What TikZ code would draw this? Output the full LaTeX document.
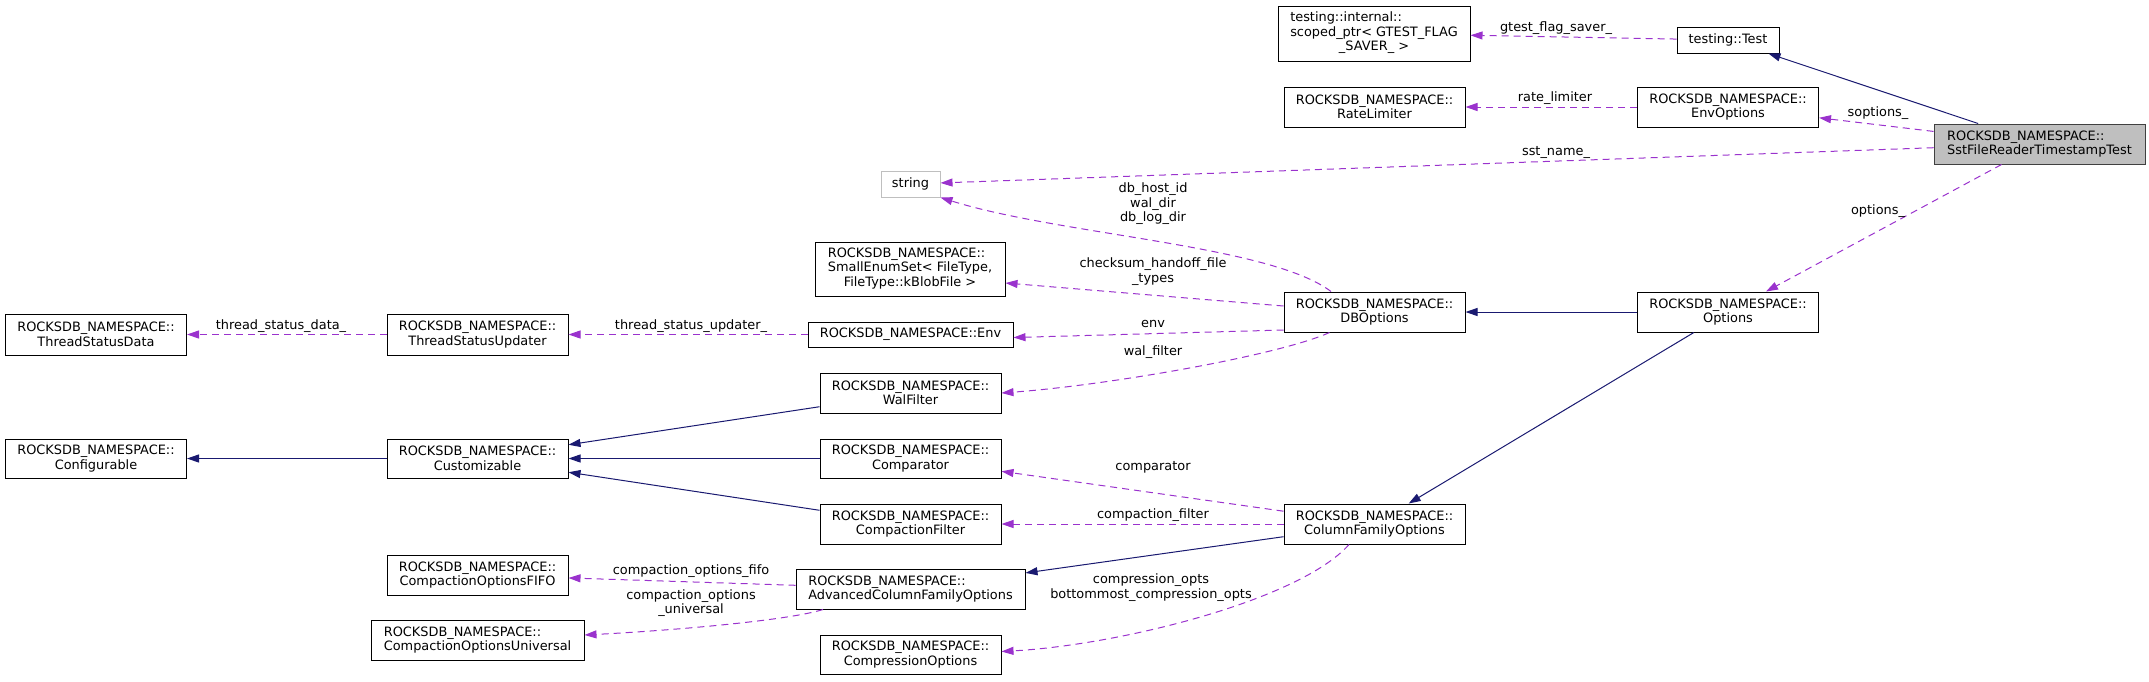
\documentclass[tikz,border=0pt]{standalone}
\usepackage{fontspec}
\setmainfont{DejaVu Sans}
\usetikzlibrary{arrows.meta}
\usepackage{xcolor}
\definecolor{usecol}{HTML}{9A32CD}
\definecolor{inhcol}{HTML}{191970}
\definecolor{mainfill}{HTML}{BFBFBF}
\definecolor{mainline}{HTML}{404040}
\definecolor{extline}{HTML}{BFBFBF}
\newcommand{\dxfont}{\fontsize{12.9}{14.5}\selectfont}
\tikzset{
  cls/.style     = {draw, line width=1pt, fill=white, inner sep=0pt, align=center,
                    font=\dxfont, minimum width=181pt, minimum height=40pt},
  mainbox/.style = {fill=mainfill, draw=mainline},
  extbox/.style  = {draw=extline},
  lbl/.style     = {font=\dxfont, inner sep=0pt, align=center},
  inh/.style     = {draw=inhcol, line width=1pt, -{Triangle[length=12pt,width=8pt]}},
  use/.style     = {draw=usecol, line width=1pt, dash pattern=on 7pt off 5pt,
                    -{Triangle[length=12pt,width=8pt]}},
}

\begin{document}
\begin{tikzpicture}[x=1pt, y=-1pt]
\useasboundingbox (0,0) rectangle (2149,681);
\node[cls, minimum width=192pt, minimum height=55pt] (scoped) at (1374,33.5)
   {\begin{tabular}{@{}l@{}}testing::internal::\\scoped\_ptr< GTEST\_FLAG\\\multicolumn{1}{@{}c@{}}{\_SAVER\_ >}\end{tabular}};
\node[cls, minimum width=102pt, minimum height=26pt] (gtest) at (1728,40) {testing::Test};
\node[cls] (ratelim) at (1374.5,107) {ROCKSDB\_NAMESPACE::\\RateLimiter};
\node[cls] (envopt) at (1728,107) {ROCKSDB\_NAMESPACE::\\EnvOptions};
\node[cls, mainbox, minimum width=211pt, align=left] (sst) at (2039.5,144)
   {ROCKSDB\_NAMESPACE::\\SstFileReaderTimestampTest};
\node[cls, extbox, minimum width=59pt, minimum height=26pt] (str) at (910.5,184) {string};
\node[cls, minimum width=190pt, minimum height=54pt] (smallenum) at (910,269)
   {\begin{tabular}{@{}l@{}}ROCKSDB\_NAMESPACE::\\SmallEnumSet< FileType,\\\multicolumn{1}{@{}c@{}}{FileType::kBlobFile >}\end{tabular}};
\node[cls] (dbopt) at (1374.5,312) {ROCKSDB\_NAMESPACE::\\DBOptions};
\node[cls] (opts) at (1728,312) {ROCKSDB\_NAMESPACE::\\Options};
\node[cls, minimum height=41pt] (tsdata) at (96,334.5) {ROCKSDB\_NAMESPACE::\\ThreadStatusData};
\node[cls, minimum height=41pt] (tsupd) at (477.5,334.5) {ROCKSDB\_NAMESPACE::\\ThreadStatusUpdater};
\node[cls, minimum width=205pt, minimum height=25pt] (env) at (910.5,334.5) {ROCKSDB\_NAMESPACE::Env};
\node[cls] (walf) at (910.5,393) {ROCKSDB\_NAMESPACE::\\WalFilter};
\node[cls, minimum height=39pt] (config) at (96,458.5) {ROCKSDB\_NAMESPACE::\\Configurable};
\node[cls, minimum height=39pt] (custom) at (477.5,458.5) {ROCKSDB\_NAMESPACE::\\Customizable};
\node[cls, minimum height=39pt] (cmp) at (910.5,458.5) {ROCKSDB\_NAMESPACE::\\Comparator};
\node[cls] (cfilter) at (910.5,524) {ROCKSDB\_NAMESPACE::\\CompactionFilter};
\node[cls] (cfo) at (1374.5,524) {ROCKSDB\_NAMESPACE::\\ColumnFamilyOptions};
\node[cls] (fifo) at (477.5,575) {ROCKSDB\_NAMESPACE::\\CompactionOptionsFIFO};
\node[cls, minimum width=229pt, align=left] (advcfo) at (910.5,589)
   {ROCKSDB\_NAMESPACE::\\AdvancedColumnFamilyOptions};
\node[cls, minimum width=213pt, align=left] (univ) at (477.5,640)
   {ROCKSDB\_NAMESPACE::\\CompactionOptionsUniversal};
\node[cls, minimum height=39pt] (compr) at (910.5,654.5) {ROCKSDB\_NAMESPACE::\\CompressionOptions};

\draw[inh] (sst) -- (gtest);
\draw[use] (gtest) -- (scoped);
\draw[use] (envopt) -- (ratelim);
\draw[use] (sst) -- (envopt);
\draw[use] (sst) -- (str);
\draw[use] (sst) -- (opts);
\draw[inh] (opts) -- (dbopt);
\draw[inh] (opts) -- (cfo);
\draw[use] ([xshift=-43.5pt]dbopt.north) .. controls (1270,245) and (1060,235) .. (str.south east);
\draw[use] ([yshift=6pt]dbopt.west) -- ([yshift=-14pt]smallenum.east);
\draw[use] ([yshift=-18pt]dbopt.west) -- ([yshift=-3pt]env.east);
\draw[use] ([xshift=-45pt]dbopt.south) .. controls (1280,355) and (1110,385) .. (walf.east);
\draw[use] (env) -- (tsupd);
\draw[use] (tsupd) -- (tsdata);
\draw[inh] (custom) -- (config);
\draw[inh] (walf) -- (custom);
\draw[inh] (cmp) -- (custom);
\draw[inh] (cfilter) -- (custom);
\draw[use] (cfo) -- (cmp);
\draw[use] (cfo) -- (cfilter);
\draw[inh] (cfo) -- (advcfo);
\draw[use] ([xshift=-25.5pt]cfo.south) .. controls (1300,600) and (1120,645) .. ([yshift=3pt]compr.east);
\draw[use] (advcfo) -- (fifo);
\draw[use] ([xshift=-87.5pt]advcfo.south) .. controls (790,620) and (680,630) .. ([yshift=5pt]univ.east);

\node[lbl] (l-gtest) at (1556,28) {gtest\_flag\_saver\_};
\node[lbl] (l-rate) at (1555,98) {rate\_limiter};
\node[lbl] (l-sopt) at (1878,113) {soptions\_};
\node[lbl] (l-sst) at (1556,152) {sst\_name\_};
\node[lbl] (l-opt) at (1878,211) {options\_};
\node[lbl] (l-str) at (1153,204) {db\_host\_id\\wal\_dir\\db\_log\_dir};
\node[lbl] (l-cks) at (1153,271.5) {checksum\_handoff\_file\\\_types};
\node[lbl] (l-env) at (1153,324) {env};
\node[lbl] (l-wal) at (1153,352) {wal\_filter};
\node[lbl] (l-tsu) at (691,326) {thread\_status\_updater\_};
\node[lbl] (l-tsd) at (281,326) {thread\_status\_data\_};
\node[lbl] (l-cmp) at (1153,467) {comparator};
\node[lbl] (l-cf) at (1153,515) {compaction\_filter};
\node[lbl] (l-compr) at (1151,587.5) {compression\_opts\\bottommost\_compression\_opts};
\node[lbl] (l-fifo) at (691,571) {compaction\_options\_fifo};
\node[lbl] (l-univ) at (691,603) {compaction\_options\\\_universal};
\end{tikzpicture}
\end{document}
